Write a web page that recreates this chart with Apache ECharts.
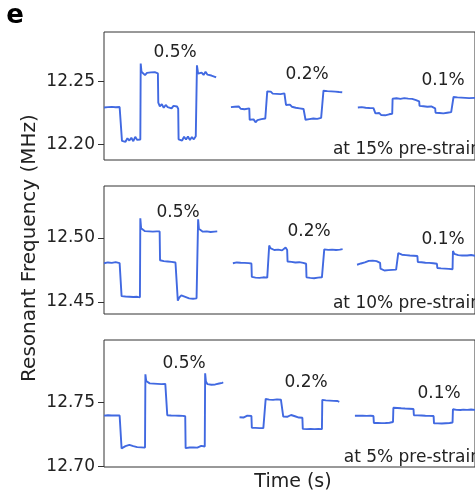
<!DOCTYPE html>
<html>
<head>
<meta charset="utf-8">
<script src="https://cdn.jsdelivr.net/npm/echarts@6/dist/echarts.min.js"></script>
<style>html,body{margin:0;padding:0;background:#fff}#c{width:475px;height:497px}</style>
</head>
<body>
<div id="c"></div>
<script>
// ---------- DATA (time in s, resonant frequency in MHz) ----------
const panelLabels = ["at 15% pre-strain", "at 10% pre-strain", "at 5% pre-strain"];
const strainLabels = ["0.5%", "0.2%", "0.1%"];
const yTicks15 = [12.20, 12.25];
const yTicks10 = [12.45, 12.50];
const yTicks5 = [12.70, 12.75];

// 15% pre-strain
const p15_05 = [[0,12.2292],[0.5,12.2286],[1,12.2295],[1.5,12.2283],[2,12.2297],[2.5,12.2289],[3,12.2294],[3.5,12.2284],[4,12.2296],[4.5,12.2290],
[4.6,12.2028],[5,12.2042],[5.5,12.2020],[6,12.2048],[6.5,12.2030],[7,12.2052],[7.5,12.2025],[8,12.2060],[8.5,12.2035],[9,12.2050],[9.3,12.2038],
[9.4,12.2640],[9.6,12.2575],[10,12.2560],[10.5,12.2548],[11,12.2566],[11.5,12.2552],[12,12.2570],[12.5,12.2555],[13,12.2572],[13.5,12.2558],[13.8,12.2562],
[13.9,12.2330],[14.3,12.2300],[14.8,12.2318],[15.3,12.2290],[15.8,12.2312],[16.3,12.2295],[16.8,12.2310],[17.3,12.2285],[17.8,12.2305],[18.3,12.2292],[18.7,12.2300],[19,12.2282],
[19.1,12.2040],[19.5,12.2055],[20,12.2030],[20.5,12.2060],[21,12.2038],[21.5,12.2062],[22,12.2035],[22.5,12.2058],[23,12.2040],[23.5,12.2065],[23.7,12.2050],
[23.8,12.2626],[24.1,12.2560],[24.5,12.2545],[25,12.2568],[25.5,12.2550],[26,12.2575],[26.5,12.2552],[27,12.2560],[27.5,12.2545],[28,12.2548],[28.4,12.2535],[28.7,12.2530]];
const p15_02 = [[32.5,12.2295],[33,12.2280],[33.5,12.2298],[34,12.2285],[34.5,12.2300],[35,12.2282],[35.5,12.2292],[36,12.2278],[36.5,12.2290],[37.2,12.2285],
[37.3,12.2195],[37.8,12.2180],[38.3,12.2198],[38.8,12.2175],[39.3,12.2192],[39.8,12.2182],[40.3,12.2200],[40.8,12.2188],[41.3,12.2205],[41.7,12.2198],
[41.8,12.2420],[42.2,12.2405],[42.7,12.2418],[43.2,12.2402],[43.7,12.2415],[44.2,12.2400],[44.7,12.2412],[45.2,12.2398],[45.7,12.2410],[46.2,12.2404],[46.5,12.2408],
[46.6,12.2312],[47.1,12.2300],[47.6,12.2315],[48.1,12.2298],[48.6,12.2305],[49.1,12.2290],[49.6,12.2302],[50.1,12.2285],[50.6,12.2292],[51.1,12.2280],[51.5,12.2288],
[51.6,12.2195],[52.1,12.2180],[52.6,12.2200],[53.1,12.2185],[53.6,12.2205],[54.1,12.2190],[54.6,12.2202],[55.1,12.2188],[55.6,12.2210],[56.1,12.2205],
[56.2,12.2425],[56.7,12.2410],[57.2,12.2422],[57.7,12.2408],[58.2,12.2420],[58.7,12.2412],[59.2,12.2418],[59.7,12.2405],[60.2,12.2415],[60.6,12.2410],[61,12.2413]];
const p15_01 = [[65,12.2292],[65.5,12.2280],[66,12.2295],[66.5,12.2283],[67,12.2290],[67.5,12.2278],[68,12.2288],[68.5,12.2282],[69,12.2287],[69.4,12.2275],
[69.5,12.2245],[70,12.2235],[70.5,12.2248],[71,12.2232],[71.5,12.2242],[72,12.2230],[72.5,12.2245],[73,12.2238],[73.5,12.2250],[73.8,12.2242],
[73.9,12.2362],[74.4,12.2355],[74.9,12.2365],[75.4,12.2352],[75.9,12.2360],[76.4,12.2355],[76.9,12.2366],[77.4,12.2358],[77.9,12.2362],[78.4,12.2350],[78.9,12.2360],[79.4,12.2355],[79.9,12.2350],[80.4,12.2345],[80.7,12.2340],
[80.8,12.2305],[81.3,12.2295],[81.8,12.2302],[82.3,12.2290],[82.8,12.2298],[83.3,12.2292],[83.8,12.2300],[84.3,12.2288],[84.8,12.2285],
[84.9,12.2250],[85.4,12.2240],[85.9,12.2248],[86.4,12.2235],[86.9,12.2245],[87.4,12.2238],[87.9,12.2250],[88.4,12.2242],[88.9,12.2255],[89.4,12.2250],
[89.5,12.2375],[90,12.2365],[90.5,12.2372],[91,12.2360],[91.5,12.2370],[92,12.2362],[92.5,12.2368],[93,12.2360],[93.5,12.2366],[94,12.2362],[95,12.2368],[96,12.2360],[97,12.2365],[98,12.2362],[99,12.2366]];

// 10% pre-strain
const p10_05 = [[0,12.4802],[0.5,12.4795],[1,12.4808],[1.5,12.4798],[2,12.4805],[2.5,12.4800],[3,12.4810],[3.5,12.4797],[4,12.4803],[4.4,12.4798],
[4.5,12.4545],[5,12.4535],[5.5,12.4542],[6,12.4530],[6.5,12.4540],[7,12.4533],[7.5,12.4538],[8,12.4530],[8.5,12.4540],[9,12.4532],[9.2,12.4536],
[9.3,12.5152],[9.5,12.5075],[10,12.5060],[10.5,12.5052],[11,12.5062],[11.5,12.5050],[12,12.5058],[12.5,12.5048],[13,12.5056],[13.5,12.5050],[14,12.5055],[14.25,12.5050],
[14.35,12.4825],[14.8,12.4810],[15.3,12.4818],[15.8,12.4805],[16.3,12.4815],[16.8,12.4808],[17.3,12.4812],[17.8,12.4800],[18.3,12.4808],[18.8,12.4802],
[18.9,12.4510],[19.3,12.4535],[19.8,12.4552],[20.3,12.4548],[20.8,12.4540],[21.3,12.4532],[21.8,12.4528],[22.3,12.4535],[22.8,12.4525],[23.3,12.4532],[23.7,12.4528],[24,12.4535],
[24.1,12.5144],[24.3,12.5070],[24.8,12.5055],[25.3,12.5048],[25.8,12.5058],[26.3,12.5050],[26.8,12.5055],[27.3,12.5045],[27.8,12.5052],[28.3,12.5048],[28.7,12.5055],[29,12.5050]];
const p10_02 = [[33,12.4802],[33.5,12.4795],[34,12.4808],[34.5,12.4800],[35,12.4806],[35.5,12.4796],[36,12.4805],[36.5,12.4798],[37,12.4803],[37.75,12.4800],
[37.85,12.4695],[38.3,12.4702],[38.8,12.4690],[39.3,12.4698],[39.8,12.4688],[40.3,12.4700],[40.8,12.4692],[41.3,12.4698],[41.8,12.4690],[42.2,12.4700],
[42.3,12.4940],[42.6,12.4920],[43.1,12.4912],[43.6,12.4905],[44.1,12.4915],[44.6,12.4908],[45.1,12.4912],[45.6,12.4902],[46.1,12.4910],[46.5,12.4925],[46.9,12.4905],
[47,12.4815],[47.5,12.4805],[48,12.4812],[48.5,12.4800],[49,12.4808],[49.5,12.4802],[50,12.4810],[50.5,12.4800],[51,12.4805],[51.75,12.4798],
[51.85,12.4692],[52.3,12.4700],[52.8,12.4688],[53.3,12.4697],[53.8,12.4685],[54.3,12.4695],[54.8,12.4690],[55.3,12.4700],[55.8,12.4692],[56.3,12.4698],
[56.4,12.4910],[56.9,12.4898],[57.4,12.4906],[57.9,12.4900],[58.4,12.4908],[58.9,12.4898],[59.4,12.4905],[59.9,12.4895],[60.4,12.4908],[60.8,12.4900],[61.1,12.4912]];
const p10_01 = [[64.8,12.4790],[65.3,12.4795],[65.8,12.4800],[66.3,12.4805],[66.8,12.4808],[67.3,12.4815],[67.8,12.4820],[68.3,12.4826],[68.8,12.4822],[69.3,12.4825],[69.8,12.4818],[70.3,12.4812],[70.7,12.4805],
[70.8,12.4760],[71.3,12.4750],[71.8,12.4745],[72.3,12.4752],[72.8,12.4748],[73.3,12.4755],[73.8,12.4750],[74.3,12.4756],[74.8,12.4752],[75.25,12.4758],
[75.35,12.4880],[75.8,12.4872],[76.3,12.4868],[76.8,12.4875],[77.3,12.4865],[77.8,12.4870],[78.3,12.4862],[78.8,12.4866],[79.3,12.4860],[79.8,12.4864],[80.25,12.4858],
[80.35,12.4812],[80.8,12.4805],[81.3,12.4810],[81.8,12.4802],[82.3,12.4806],[82.8,12.4800],[83.3,12.4805],[83.8,12.4798],[84.3,12.4802],[84.8,12.4795],[85.25,12.4798],
[85.35,12.4765],[85.8,12.4758],[86.3,12.4762],[86.8,12.4755],[87.3,12.4760],[87.8,12.4752],[88.3,12.4758],[88.8,12.4750],[89.25,12.4755],
[89.35,12.4898],[89.7,12.4875],[90.2,12.4868],[90.7,12.4865],[91.2,12.4870],[91.7,12.4862],[92.2,12.4868],[93,12.4862],[94,12.4866],[95,12.4860],[96,12.4865],[97,12.4860],[98,12.4864],[99,12.4860]];

// 5% pre-strain
const p5_05 = [[0,12.7395],[0.5,12.7390],[1,12.7398],[1.5,12.7392],[2,12.7396],[2.5,12.7390],[3,12.7397],[3.5,12.7392],[4,12.7396],[4.4,12.7393],
[4.5,12.7140],[5,12.7150],[5.5,12.7158],[6,12.7165],[6.5,12.7168],[7,12.7162],[7.5,12.7158],[8,12.7155],[8.5,12.7150],[9,12.7155],[9.5,12.7148],[10,12.7152],[10.5,12.7146],
[10.6,12.7717],[10.8,12.7665],[11.2,12.7650],[11.7,12.7646],[12.2,12.7650],[12.7,12.7644],[13.2,12.7648],[13.7,12.7642],[14.2,12.7647],[14.7,12.7640],[15.2,12.7646],[15.7,12.7642],[16.1,12.7648],
[16.2,12.7398],[16.7,12.7392],[17.2,12.7396],[17.7,12.7390],[18.2,12.7395],[18.7,12.7391],[19.2,12.7394],[19.7,12.7388],[20.2,12.7393],[20.8,12.7390],
[20.9,12.7142],[21.4,12.7150],[21.9,12.7147],[22.4,12.7152],[22.9,12.7148],[23.4,12.7150],[23.9,12.7146],[24.4,12.7152],[24.9,12.7160],[25.3,12.7150],[25.8,12.7155],
[25.9,12.7725],[26.1,12.7660],[26.5,12.7640],[27,12.7632],[27.5,12.7636],[28,12.7630],[28.5,12.7638],[29,12.7640],[29.5,12.7645],[30,12.7660],[30.3,12.7650],[30.5,12.7655]];
const p5_02 = [[34.7,12.7382],[35.2,12.7385],[35.7,12.7380],[36.2,12.7386],[36.7,12.7395],[37.2,12.7390],[37.75,12.7392],
[37.85,12.7300],[38.3,12.7295],[38.8,12.7300],[39.3,12.7294],[39.8,12.7298],[40.3,12.7293],[40.8,12.7298],[41.3,12.7296],
[41.4,12.7525],[41.8,12.7515],[42.3,12.7520],[42.8,12.7512],[43.3,12.7518],[43.8,12.7510],[44.3,12.7522],[44.8,12.7515],[45.3,12.7519],[45.8,12.7514],
[45.9,12.7388],[46.4,12.7382],[46.9,12.7386],[47.4,12.7395],[47.9,12.7400],[48.4,12.7396],[48.9,12.7390],[49.4,12.7385],[49.9,12.7380],[50.4,12.7384],[50.8,12.7378],
[50.9,12.7292],[51.4,12.7296],[51.9,12.7290],[52.4,12.7295],[52.9,12.7292],[53.4,12.7294],[53.9,12.7290],[54.4,12.7295],[54.9,12.7291],[55.4,12.7294],[55.8,12.7290],
[55.9,12.7518],[56.3,12.7510],[56.8,12.7514],[57.3,12.7508],[57.8,12.7512],[58.3,12.7506],[58.8,12.7510],[59.3,12.7505],[59.8,12.7509],[60.25,12.7503]];
const p5_01 = [[64.25,12.7394],[64.75,12.7392],[65.25,12.7395],[65.75,12.7391],[66.25,12.7394],[66.75,12.7390],[67.25,12.7393],[67.75,12.7391],[68.25,12.7394],[68.75,12.7390],[69,12.7392],
[69.1,12.7338],[69.6,12.7335],[70.1,12.7338],[70.6,12.7334],[71.1,12.7337],[71.6,12.7333],[72.1,12.7338],[72.6,12.7335],[73.1,12.7340],[73.6,12.7342],[74,12.7345],
[74.1,12.7456],[74.6,12.7452],[75.1,12.7455],[75.6,12.7450],[76.1,12.7452],[76.6,12.7448],[77.1,12.7450],[77.6,12.7446],[78.1,12.7449],[78.6,12.7445],[79.25,12.7447],
[79.35,12.7398],[79.8,12.7395],[80.3,12.7397],[80.8,12.7393],[81.3,12.7396],[81.8,12.7392],[82.3,12.7394],[82.8,12.7390],[83.3,12.7393],[83.8,12.7390],[84.4,12.7392],
[84.5,12.7335],[85,12.7332],[85.5,12.7335],[86,12.7331],[86.5,12.7334],[87,12.7332],[87.5,12.7336],[88,12.7334],[88.5,12.7338],[89,12.7340],[89.25,12.7342],
[89.35,12.7445],[89.8,12.7442],[90.3,12.7440],[90.8,12.7443],[91.3,12.7439],[92,12.7442],[93,12.7440],[94,12.7443],[95,12.7440],[96,12.7442],[97,12.7439],[98,12.7442],[99,12.7440]];

// ---------- CHART ----------
const FONT = "DejaVu Sans";
const BLUE = "#4169E1";
const panels = [
  {top: 32, height: 128, min: 12.1876, max: 12.289, ticks: yTicks15, segs: [p15_05, p15_02, p15_01],
   lab: [[175, 53], [307, 75], [443, 81]], noteY: 150},
  {top: 186, height: 128, min: 12.4406, max: 12.5404, ticks: yTicks10, segs: [p10_05, p10_02, p10_01],
   lab: [[178, 213], [309, 232], [443, 240]], noteY: 304},
  {top: 340, height: 127, min: 12.6995, max: 12.7984, ticks: yTicks5, segs: [p5_05, p5_02, p5_01],
   lab: [[184, 364], [306, 383], [439, 394]], noteY: 458}
];

const grid = [], xAxis = [], yAxis = [], series = [], graphic = [];
panels.forEach((p, i) => {
  grid.push({left: 104, right: -9, top: p.top, height: p.height, show: true,
    borderColor: "#333", borderWidth: 1, backgroundColor: "transparent"});
  xAxis.push({type: "value", gridIndex: i, min: 0, max: 95, show: false});
  yAxis.push({type: "value", gridIndex: i, min: p.min, max: p.max,
    axisLine: {show: false}, splitLine: {show: false},
    axisTick: {show: true, customValues: p.ticks, length: 6, lineStyle: {color: "#333", width: 1}},
    axisLabel: {show: true, customValues: p.ticks, margin: 9, fontSize: 17, color: "#222", fontFamily: FONT,
      formatter: v => Number(v).toFixed(2)}});
  p.segs.forEach(s => series.push({type: "line", xAxisIndex: i, yAxisIndex: i, data: s,
    symbol: "none", showSymbol: false, lineStyle: {color: BLUE, width: 1.9}, silent: true}));
  p.lab.forEach((c, k) => graphic.push({type: "text", x: c[0], y: c[1],
    style: {text: strainLabels[k], font: "17px '" + FONT + "'", fill: "#222", textAlign: "center", textVerticalAlign: "middle"}}));
  graphic.push({type: "text", x: 481, y: p.noteY,
    style: {text: panelLabels[i], font: "17px '" + FONT + "'", fill: "#222", textAlign: "right", textVerticalAlign: "middle"}});
});
graphic.push({type: "text", x: 30, y: 248, rotation: Math.PI / 2,
  style: {text: "Resonant Frequency (MHz)", font: "20px '" + FONT + "'", fill: "#222", textAlign: "center", textVerticalAlign: "middle"}});
graphic.push({type: "text", x: 293, y: 482,
  style: {text: "Time (s)", font: "19px '" + FONT + "'", fill: "#222", textAlign: "center", textVerticalAlign: "middle"}});
graphic.push({type: "text", x: 15, y: 16,
  style: {text: "e", font: "bold 26px '" + FONT + "'", fill: "#000", textAlign: "center", textVerticalAlign: "middle"}});

const chart = echarts.init(document.getElementById("c"), null, {renderer: "canvas"});
chart.setOption({animation: false, grid, xAxis, yAxis, series, graphic});
</script>
</body>
</html>
